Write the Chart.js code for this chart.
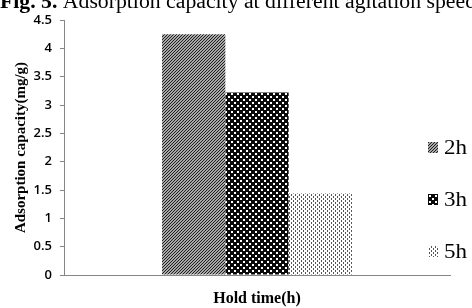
<!DOCTYPE html>
<html>
<head>
<meta charset="utf-8">
<style>
html,body{margin:0;padding:0;background:#fff;overflow:hidden;}
canvas{display:block;}
</style>
<script src="https://cdn.jsdelivr.net/npm/chart.js@4.4.1/dist/chart.umd.min.js"></script>
</head>
<body>
<canvas id="c" width="472" height="308"></canvas>
<script>
// ---- data ----
const categories = [""];
const seriesLabels = ["2h", "3h", "5h"];
const values2h = [4.25];
const values3h = [3.22];
const values5h = [1.44];
const yTickLabels = ["0", "0.5", "1", "1.5", "2", "2.5", "3", "3.5", "4", "4.5"];
const titleBold = "Fig. 5.";
const titleText = " Adsorption capacity at different agitation speed";
const xTitle = "Hold time(h)";
const yTitle = "Adsorption capacity(mg/g)";

// ---- patterns ----
function makePattern(w, h, bg, fg, pixels) {
  const cv = document.createElement('canvas');
  cv.width = w; cv.height = h;
  const cx = cv.getContext('2d');
  cx.fillStyle = bg; cx.fillRect(0, 0, w, h);
  cx.fillStyle = fg;
  pixels.forEach(p => cx.fillRect(p[0], p[1], p[2] || 1, p[3] || 1));
  return cx.createPattern(cv, 'repeat');
}
function diagPixels(n) {
  const px = [];
  for (let x = 0; x < n; x++) for (let y = 0; y < n; y++) {
    if ((x + y) % n === 0) px.push([x, y]);
  }
  return px;
}
const pat2h = makePattern(3, 3, '#a8a8a8', '#1e1e1e', diagPixels(3));
const pat3h = makePattern(6, 6, '#0a0a0a', '#ffffff', [[0, 0, 2, 2], [3, 3, 2, 2]]);
const pat5h = makePattern(4, 4, '#ffffff', '#555555', [[1, 0, 1, 2], [3, 2, 1, 2]]);
const patterns = [pat2h, pat3h, pat5h];

const axisColor = '#868686';

const titlePlugin = {
  id: 'figTitle',
  afterDraw(chart) {
    const ctx = chart.ctx;
    ctx.save();
    ctx.fillStyle = '#000';
    ctx.textBaseline = 'alphabetic';
    ctx.textAlign = 'left';
    const fb = 'bold 20px "Liberation Serif"';
    const fr = '20px "Liberation Serif"';
    ctx.font = fb; const wb = ctx.measureText(titleBold).width;
    ctx.font = fr; const wr = ctx.measureText(titleText).width;
    const sx = 476 / (wb + wr);
    ctx.translate(0, 7.5);
    ctx.scale(sx, 1);
    ctx.font = fb; ctx.fillText(titleBold, 0, 0);
    ctx.font = fr; ctx.fillText(titleText, wb, 0);
    ctx.restore();
  }
};

const legendPlugin = {
  id: 'sideLegend',
  afterDraw(chart) {
    const ctx = chart.ctx;
    const area = chart.chartArea;
    ctx.save();
    chart.data.datasets.forEach((ds, i) => {
      const cy = area.bottom - 127 + 52 * i;
      const mx = area.right - 22;
      ctx.fillStyle = ds.backgroundColor;
      ctx.fillRect(mx, cy - 6, 10, 11);
      ctx.fillStyle = '#000';
      ctx.font = '20px "Liberation Serif"';
      ctx.textBaseline = 'middle';
      ctx.textAlign = 'left';
      ctx.save();
      ctx.translate(mx + 16, cy + 1);
      ctx.scale(1.15, 1);
      ctx.fillText(ds.label, 0, 0);
      ctx.restore();
    });
    ctx.restore();
  }
};

new Chart(document.getElementById('c'), {
  type: 'bar',
  data: {
    labels: categories,
    datasets: [
      { label: seriesLabels[0], data: values2h, backgroundColor: patterns[0] },
      { label: seriesLabels[1], data: values3h, backgroundColor: patterns[1] },
      { label: seriesLabels[2], data: values5h, backgroundColor: patterns[2] }
    ]
  },
  options: {
    responsive: false,
    devicePixelRatio: 1,
    animation: false,
    layout: { padding: { top: 20, right: 22, left: 0, bottom: 0 } },
    datasets: { bar: { categoryPercentage: 0.492, barPercentage: 1.0, borderWidth: 0 } },
    plugins: {
      legend: { display: false },
      tooltip: { enabled: false },
      title: { display: false }
    },
    scales: {
      x: {
        grid: { display: false },
        border: { display: true, color: axisColor, width: 1 },
        ticks: { display: false },
        title: {
          display: true, text: xTitle, color: '#000',
          font: { family: '"Liberation Serif"', size: 16, weight: 'bold' },
          padding: { top: 14, bottom: 0 }
        },
        afterFit(scale) { scale.height = 33; }
      },
      y: {
        min: 0, max: 4.5,
        ticks: {
          stepSize: 0.5,
          padding: 8,
          color: '#000',
          font: { family: '"Open Sans"', size: 13, weight: '600' },
          callback: (v, i) => yTickLabels[i]
        },
        grid: { drawOnChartArea: false, drawTicks: true, tickLength: 4, color: axisColor },
        border: { display: true, color: axisColor, width: 1 },
        title: {
          display: true, text: yTitle, color: '#000',
          font: { family: '"Liberation Serif"', size: 15, weight: 'bold' },
          padding: { top: 12, bottom: 0 }
        },
        afterFit(scale) { scale.width = 64; }
      }
    }
  },
  plugins: [titlePlugin, legendPlugin]
});
</script>
</body>
</html>
